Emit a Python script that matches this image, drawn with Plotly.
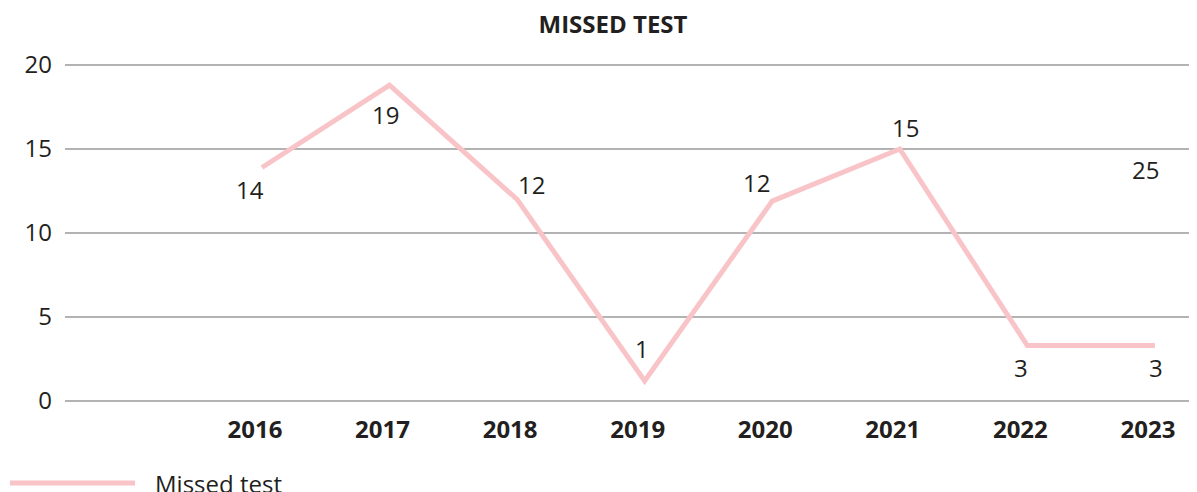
import plotly.graph_objects as go

years = [2016, 2017, 2018, 2019, 2020, 2021, 2022, 2023]
missed_test = [13.9, 18.8, 12.0, 1.2, 11.9, 15.0, 3.3, 3.3]
labels = ["14", "19", "12", "1", "12", "15", "3", "3"]
# pixel offsets of each value label relative to its point (styling only)
label_dx = [-12, -4, 14, -3, -16, 6, -6, 1]
label_dy = [-22, -29, 15, 32, 19, 22, -22, -22]
y_ticks = [0, 5, 10, 15, 20]
extra_label = "25"
extra_label_year = 2023
extra_label_value = 13.8

# page body has an 8px margin, so the figure is 8px smaller each way
W, H = 1189, 484
L, R, T, B = 57, 0, 55, 89
FONT = "Open Sans, Noto Sans, sans-serif"
PINK = "#f8c4c8"
TXT = "#231f20"
FS = 24

pw = W - L - R
ph = H - T - B

fig = go.Figure()
fig.add_trace(go.Scatter(
    x=years, y=missed_test, mode="lines", name="Missed test",
    line=dict(color=PINK, width=5),
    showlegend=False,
))

for x, y, t, dx, dy in zip(years, missed_test, labels, label_dx, label_dy):
    fig.add_annotation(x=x, y=y, text=t, showarrow=False,
                       xshift=dx, yshift=dy,
                       font=dict(family=FONT, size=FS, color=TXT))

fig.add_annotation(x=extra_label_year, y=extra_label_value, text=extra_label,
                   showarrow=False, xshift=-9,
                   font=dict(family=FONT, size=FS, color=TXT))

# legend drawn manually (long line sample)
leg_y = -(475 - (H - B)) / ph
fig.add_shape(type="line", xref="paper", yref="paper",
              x0=(2 - L) / pw, x1=(127 - L) / pw,
              y0=leg_y, y1=leg_y,
              line=dict(color=PINK, width=5))
fig.add_annotation(xref="paper", yref="paper", x=(145 - L) / pw,
                   y=-(475 - (H - B)) / ph, xanchor="left", yanchor="middle",
                   text="Missed test", showarrow=False,
                   font=dict(family=FONT, size=FS, color=TXT))

fig.update_layout(
    width=W, height=H,
    margin=dict(l=L, r=R, t=T, b=B),
    paper_bgcolor="white", plot_bgcolor="white",
    title=dict(text="<b>MISSED TEST</b>", x=605 / W, xanchor="center",
               y=1 - 17 / H, yanchor="middle",
               font=dict(family=FONT, size=FS, color=TXT)),
    showlegend=False,
)
fig.update_xaxes(
    range=[2014.456, 2023.33], tickmode="array", tickvals=years,
    ticktext=[f"<b>{y}</b>" for y in years],
    showgrid=False, zeroline=False, showline=False,
    tickfont=dict(family=FONT, size=FS, color=TXT),
    ticklabelstandoff=10, ticklabelshift=-7,
)
fig.update_yaxes(
    range=[-0.119, 20.119], tickmode="array", tickvals=y_ticks,
    showgrid=True, gridcolor="#b3b3b3", gridwidth=2, zeroline=False,
    showline=False,
    tickfont=dict(family=FONT, size=FS, color=TXT),
    ticklabelstandoff=12,
)

fig.write_html("out.html")
